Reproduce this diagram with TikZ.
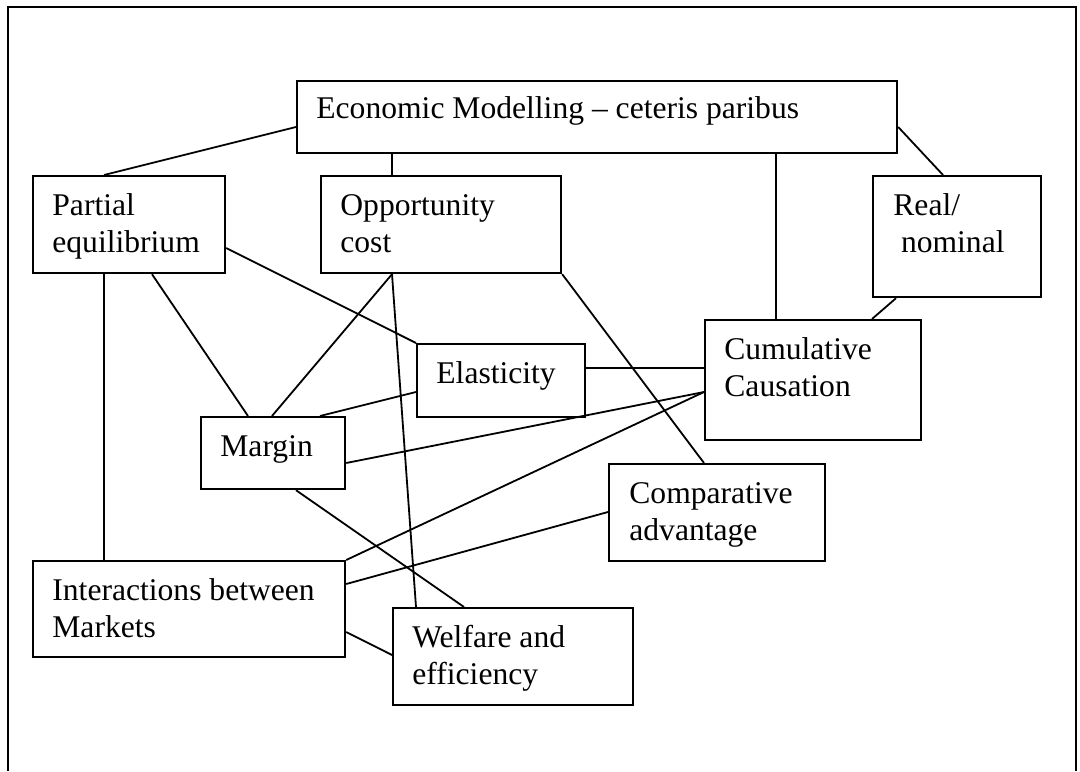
\documentclass[tikz,border=0pt]{standalone}
\usepackage{fontspec}
\setmainfont{Liberation Serif}
\usetikzlibrary{calc}
\tikzset{
  box/.style={draw=black, line width=1.1pt, rectangle, inner sep=0pt, anchor=north west},
  lbl/.style={anchor=base west, inner sep=0pt, font=\fontsize{15.8}{18.5}\selectfont},
  link/.style={draw=black, line width=0.9pt},
  frame/.style={draw=black, line width=1pt}
}
\newcommand{\lines}[1]{\begin{tabular}[t]{@{}l@{}}#1\end{tabular}}
\begin{document}
\begin{tikzpicture}[x=0.5pt,y=-0.5pt]
\useasboundingbox (0,0) rectangle (1080,771);
\draw[frame] (8,771) -- (8,7) -- (1076,7) -- (1076,771);
% boxes
\node[box, minimum width=300pt, minimum height=36pt] (econ) at (296,80) {};
\node[box, minimum width=96pt, minimum height=48.5pt] (pe) at (32,175) {};
\node[box, minimum width=120pt, minimum height=48.5pt] (oc) at (320,175) {};
\node[box, minimum width=84pt, minimum height=60.5pt] (rn) at (872,175) {};
\node[box, minimum width=108pt, minimum height=60pt] (cc) at (704,319) {};
\node[box, minimum width=84pt, minimum height=36.5pt] (el) at (416,343) {};
\node[box, minimum width=72pt, minimum height=36pt] (mg) at (200,416) {};
\node[box, minimum width=108pt, minimum height=48.5pt] (ca) at (608,463) {};
\node[box, minimum width=156pt, minimum height=48pt] (im) at (32,560) {};
\node[box, minimum width=120pt, minimum height=48.5pt] (we) at (392,607) {};
% labels
\node[lbl] (econ-t) at ($(econ.north west)+(20,38)$) {Economic Modelling – ceteris paribus};
\node[lbl] (pe-t) at ($(pe.north west)+(20,40)$) {\lines{Partial\\equilibrium}};
\node[lbl] (oc-t) at ($(oc.north west)+(20,40)$) {\lines{Opportunity\\cost}};
\node[lbl] (rn-t) at ($(rn.north west)+(21,40)$) {\lines{Real/\\\hspace*{3.8pt}nominal}};
\node[lbl] (cc-t) at ($(cc.north west)+(20,40)$) {\lines{Cumulative\\Causation}};
\node[lbl] (el-t) at ($(el.north west)+(20,40)$) {Elasticity};
\node[lbl] (mg-t) at ($(mg.north west)+(20,40)$) {Margin};
\node[lbl] (ca-t) at ($(ca.north west)+(21,40)$) {\lines{Comparative\\advantage}};
\node[lbl] (im-t) at ($(im.north west)+(20,40)$) {\lines{Interactions between\\Markets}};
\node[lbl] (we-t) at ($(we.north west)+(20,40)$) {\lines{Welfare and\\efficiency}};
% connectors
\draw[link] ($(econ.north west)+(0,47)$) -- ($(pe.north west)+(72,0)$);
\draw[link] ($(econ.south west)+(96,0)$) -- ($(oc.north west)+(72,0)$);
\draw[link] ($(econ.south west)+(480,0)$) -- ($(cc.north west)+(72,0)$);
\draw[link] ($(econ.north east)+(0,47)$) -- ($(rn.north west)+(71,0)$);
\draw[link] ($(rn.south west)+(24,0)$) -- ($(cc.north west)+(168,0)$);
\draw[link] ($(pe.north east)+(0,73)$) -- (el.north west);
\draw[link] ($(pe.south west)+(120,0)$) -- ($(mg.north west)+(48,0)$);
\draw[link] ($(pe.south west)+(72,0)$) -- ($(im.north west)+(72,0)$);
\draw[link] ($(oc.south west)+(72,0)$) -- ($(mg.north west)+(72,0)$);
\draw[link] ($(oc.south west)+(72,0)$) -- ($(we.north west)+(24,0)$);
\draw[link] (oc.south east) -- ($(ca.north west)+(96,0)$);
\draw[link] ($(el.north east)+(0,25)$) -- ($(cc.north west)+(0,49)$);
\draw[link] ($(el.north west)+(0,49)$) -- ($(mg.north west)+(120,0)$);
\draw[link] ($(mg.north east)+(0,47)$) -- ($(cc.north west)+(0,73)$);
\draw[link] (im.north east) -- ($(cc.north west)+(0,73)$);
\draw[link] ($(im.north east)+(0,24)$) -- ($(ca.north west)+(0,49)$);
\draw[link] ($(mg.south west)+(96,0)$) -- ($(we.north west)+(72,0)$);
\draw[link] ($(im.north east)+(0,72)$) -- ($(we.north west)+(0,48)$);
\end{tikzpicture}
\end{document}
